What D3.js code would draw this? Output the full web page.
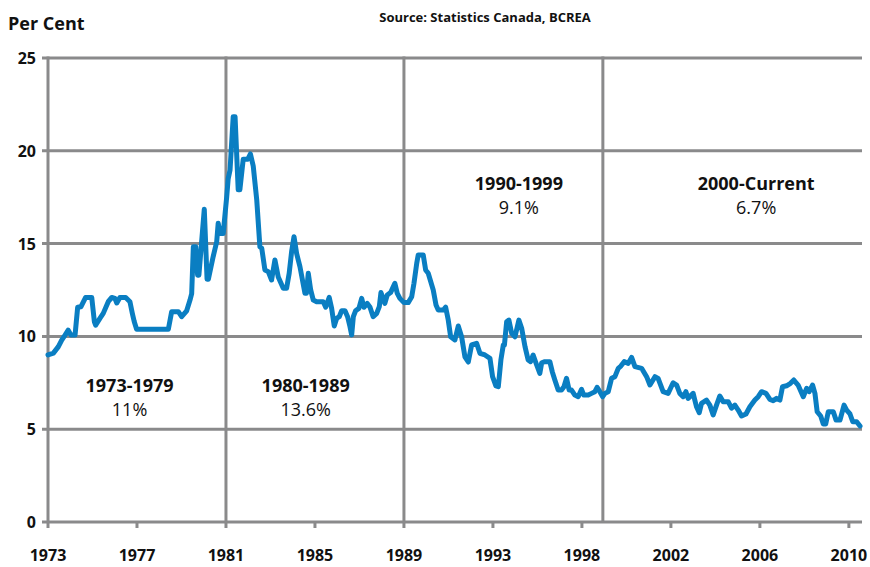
<!DOCTYPE html>
<html>
<head>
<meta charset="utf-8">
<script src="https://cdn.jsdelivr.net/npm/d3@7"></script>
<style>
  body { margin: 0; background: #fff; }
  text { font-family: "Open Sans", "Noto Sans", sans-serif; fill: #111; }
</style>
</head>
<body>
<svg id="chart" width="870" height="567"></svg>
<script>
// month index along the category axis (0 = Jan 1973) and the 5-yr mortgage rate
var months = [0, 2.9, 5.6, 7.4, 9.2, 10.9, 12.4, 14.6, 16.0, 17.8, 20.3, 23.6, 25.0, 25.7, 28.0, 29.8, 32.5, 34.4, 36.1, 37.1,
  38.8, 41.9, 44.2, 45.5, 46.5, 47.8, 64.9, 66.7, 70.3, 72.1, 74.8, 76.6, 77.5, 78.4, 79.7, 80.7, 81.4, 84.3, 85.8, 86.5,
  89.1, 91.0, 91.8, 92.8, 94.5, 96.4, 97.2, 98.2, 99.9, 100.9, 102.6, 103.5, 105.3, 107.7, 109.2, 110.7, 112.6, 114.3, 115.3, 117.0,
  118.8, 120.6, 122.4, 124.2, 126.9, 128.7, 130.1, 131.4, 132.7, 134.1, 135.9, 138.6, 139.4, 140.4, 141.7, 143.1, 144.9, 148.5, 149.8, 151.7,
  153.0, 154.4, 155.7, 157.1, 158.4, 160.2, 161.6, 162.9, 163.8, 164.7, 165.9, 167.7, 169.2, 170.4, 172.2, 173.7, 175.4, 177.3, 178.7, 179.6,
  181.7, 183.0, 184.8, 187.1, 188.4, 189.8, 192.0, 194.3, 196.2, 197.4, 198.9, 199.7, 202.4, 203.7, 205.1, 207.8, 209.3, 210.5, 213.2, 214.5,
  215.9, 217.2, 219.5, 221.3, 223.1, 224.9, 226.7, 228.5, 231.2, 233.0, 235.7, 238.4, 239.8, 241.6, 242.9, 244.3, 245.6, 246.2, 247.4, 248.6,
  250.1, 251.9, 254.0, 255.5, 257.3, 259.0, 260.3, 261.7, 263.6, 265.3, 266.3, 268.0, 270.7, 272.0, 273.4, 275.2, 277.0, 278.3, 279.7, 281.1,
  282.4, 284.2, 286.0, 287.8, 289.0, 291.4, 293.2, 295.0, 296.2, 297.7, 299.2, 300.4, 302.2, 304.0, 305.8, 307.6, 309.0, 310.8, 313.0, 314.8,
  316.6, 320.2, 322.9, 324.7, 327.4, 329.1, 331.8, 334.5, 337.2, 339.1, 340.8, 342.6, 344.1, 345.3, 348.0, 349.8, 351.3, 352.5, 355.2, 357.0,
  358.8, 360.6, 362.4, 364.2, 366.9, 368.7, 370.5, 372.3, 374.1, 376.5, 378.6, 381.3, 383.1, 384.9, 387.3, 389.4, 391.2, 393.0, 394.8, 396.2,
  398.4, 400.5, 402.3, 404.6, 407.4, 409.2, 410.6, 412.4, 413.7, 414.9, 416.8, 418.2, 419.5, 420.9, 423.6, 425.1, 427.2, 429.4, 430.8, 432.6,
  434.1, 436.2, 438.0]
var rates = [9.0, 9.1, 9.45, 9.8, 10.07, 10.34, 10.07, 10.07, 11.57, 11.6, 12.1, 12.1, 10.8, 10.6, 10.97, 11.24, 11.87, 12.1, 12.05, 11.8,
  12.1, 12.1, 11.87, 11.24, 10.8, 10.38, 10.38, 11.33, 11.33, 11.06, 11.38, 11.96, 12.3, 14.83, 14.83, 13.3, 13.3, 16.85, 13.08, 13.08,
  14.3, 15.1, 16.1, 15.55, 15.55, 17.53, 18.5, 18.97, 21.84, 21.84, 17.9, 17.9, 19.54, 19.54, 19.83, 19.18, 17.35, 14.83, 14.75, 13.58,
  13.49, 13.04, 14.12, 13.2, 12.59, 12.59, 13.4, 14.56, 15.37, 14.47, 13.76, 12.32, 12.32, 13.4, 12.5, 11.96, 11.87, 11.87, 11.57, 12.1,
  11.51, 10.56, 10.97, 11.06, 11.38, 11.38, 11.06, 10.52, 10.08, 11.06, 11.38, 11.51, 12.05, 11.57, 11.78, 11.57, 11.06, 11.24, 11.6, 12.36,
  11.78, 12.23, 12.36, 12.86, 12.32, 12.05, 11.82, 11.82, 12.14, 12.86, 13.94, 14.39, 14.39, 13.58, 13.4, 12.5, 11.69, 11.42, 11.42, 11.57,
  10.88, 9.98, 9.81, 10.56, 9.98, 8.9, 8.62, 9.54, 9.63, 9.09, 9.0, 8.82, 7.83, 7.33, 7.29, 8.73, 9.54, 9.54, 10.79, 10.88,
  10.17, 9.98, 10.88, 10.44, 9.45, 8.73, 8.64, 9.0, 8.46, 8.01, 8.58, 8.64, 8.64, 8.1, 7.65, 7.11, 7.11, 7.29, 7.74, 7.11,
  7.11, 6.84, 6.75, 7.15, 6.84, 6.84, 6.93, 7.02, 7.26, 7.02, 6.75, 6.93, 7.02, 7.74, 7.83, 8.28, 8.4, 8.64, 8.55, 8.87,
  8.37, 8.28, 7.83, 7.38, 7.83, 7.74, 7.02, 6.93, 7.5, 7.38, 6.93, 6.75, 7.02, 6.66, 6.93, 6.21, 5.89, 6.39, 6.57, 6.3,
  5.77, 6.3, 6.79, 6.48, 6.48, 6.13, 6.3, 6.03, 5.71, 5.82, 6.21, 6.57, 6.75, 7.02, 6.93, 6.61, 6.54, 6.66, 6.57, 7.29,
  7.34, 7.47, 7.65, 7.38, 6.75, 7.2, 7.02, 7.38, 6.93, 5.94, 5.71, 5.28, 5.28, 5.94, 5.94, 5.49, 5.49, 6.3, 6.03, 5.82,
  5.4, 5.4, 5.17]

var tickMonths = [0, 48, 96, 144, 192, 240, 288, 336, 384, 432]
var tickLabels = ['1973', '1977', '1981', '1985', '1989', '1993', '1998', '2002', '2006', '2010']
var yTicks = [0, 5, 10, 15, 20, 25]
var dividers = [96, 192, 299.3]
var periodNames = ['1973-1979', '1980-1989', '1990-1999', '2000-Current']
var periodAvg = ['11%', '13.6%', '9.1%', '6.7%']
var periodMid = [44, 139, 254, 382]
var periodLevel = [7.0, 7.0, 17.9, 17.9]

var svg = d3.select('#chart')
var x = d3.scaleLinear().domain([0, 438]).range([48, 860])
var y = d3.scaleLinear().domain([0, 25]).range([522, 58])
var gridColor = '#8a8a8b'

// horizontal grid
svg.selectAll('.hgrid')
  .data(yTicks)
  .join('line')
  .attr('class', 'hgrid')
  .attr('x1', 42).attr('x2', 862)
  .attr('y1', function (d) { return y(d) })
  .attr('y2', function (d) { return y(d) })
  .attr('stroke', gridColor)
  .attr('stroke-width', 3)

// vertical dividers + left axis
svg.selectAll('.vgrid')
  .data([0].concat(dividers))
  .join('line')
  .attr('class', 'vgrid')
  .attr('x1', function (d) { return x(d) })
  .attr('x2', function (d) { return x(d) })
  .attr('y1', y(25) - 1.5).attr('y2', y(0))
  .attr('stroke', gridColor)
  .attr('stroke-width', 3)

// x ticks
svg.selectAll('.xtick')
  .data(tickMonths)
  .join('line')
  .attr('class', 'xtick')
  .attr('x1', function (d) { return x(d) })
  .attr('x2', function (d) { return x(d) })
  .attr('y1', y(0)).attr('y2', y(0) + 6)
  .attr('stroke', gridColor)
  .attr('stroke-width', 3)

svg.selectAll('.xlab')
  .data(tickLabels)
  .join('text')
  .attr('class', 'xlab')
  .attr('x', function (d, i) { return x(tickMonths[i]) })
  .attr('y', 561)
  .attr('text-anchor', 'middle')
  .attr('font-size', '16px')
  .attr('font-weight', 'bold')
  .text(function (d) { return d })

svg.selectAll('.ylab')
  .data(yTicks)
  .join('text')
  .attr('class', 'ylab')
  .attr('x', 36)
  .attr('y', function (d) { return y(d) + 6 })
  .attr('text-anchor', 'end')
  .attr('font-size', '16px')
  .attr('font-weight', 'bold')
  .text(function (d) { return d })

// the rate line
var pts = months.map(function (m, i) { return [m, rates[i]] })
svg.append('path')
  .datum(pts)
  .attr('fill', 'none')
  .attr('stroke', '#0a7ec2')
  .attr('stroke-width', 5)
  .attr('stroke-linejoin', 'round')
  .attr('stroke-linecap', 'round')
  .attr('d', d3.line()
    .x(function (d) { return x(d[0]) })
    .y(function (d) { return y(d[1]) }))

// period annotations
svg.selectAll('.pname')
  .data(periodNames)
  .join('text')
  .attr('class', 'pname')
  .attr('x', function (d, i) { return x(periodMid[i]) })
  .attr('y', function (d, i) { return y(periodLevel[i]) })
  .attr('text-anchor', 'middle')
  .attr('font-size', '18px')
  .attr('font-weight', 'bold')
  .text(function (d) { return d })

svg.selectAll('.pavg')
  .data(periodAvg)
  .join('text')
  .attr('class', 'pavg')
  .attr('x', function (d, i) { return x(periodMid[i]) })
  .attr('y', function (d, i) { return y(periodLevel[i]) + 24 })
  .attr('text-anchor', 'middle')
  .attr('font-size', '18px')
  .text(function (d) { return d })

svg.append('text')
  .attr('x', 8).attr('y', 30)
  .attr('font-size', '18px')
  .attr('font-weight', 'bold')
  .text('Per Cent')

svg.append('text')
  .attr('x', 485).attr('y', 22)
  .attr('text-anchor', 'middle')
  .attr('font-size', '13px')
  .attr('font-weight', 'bold')
  .text('Source: Statistics Canada, BCREA')
</script>
</body>
</html>
